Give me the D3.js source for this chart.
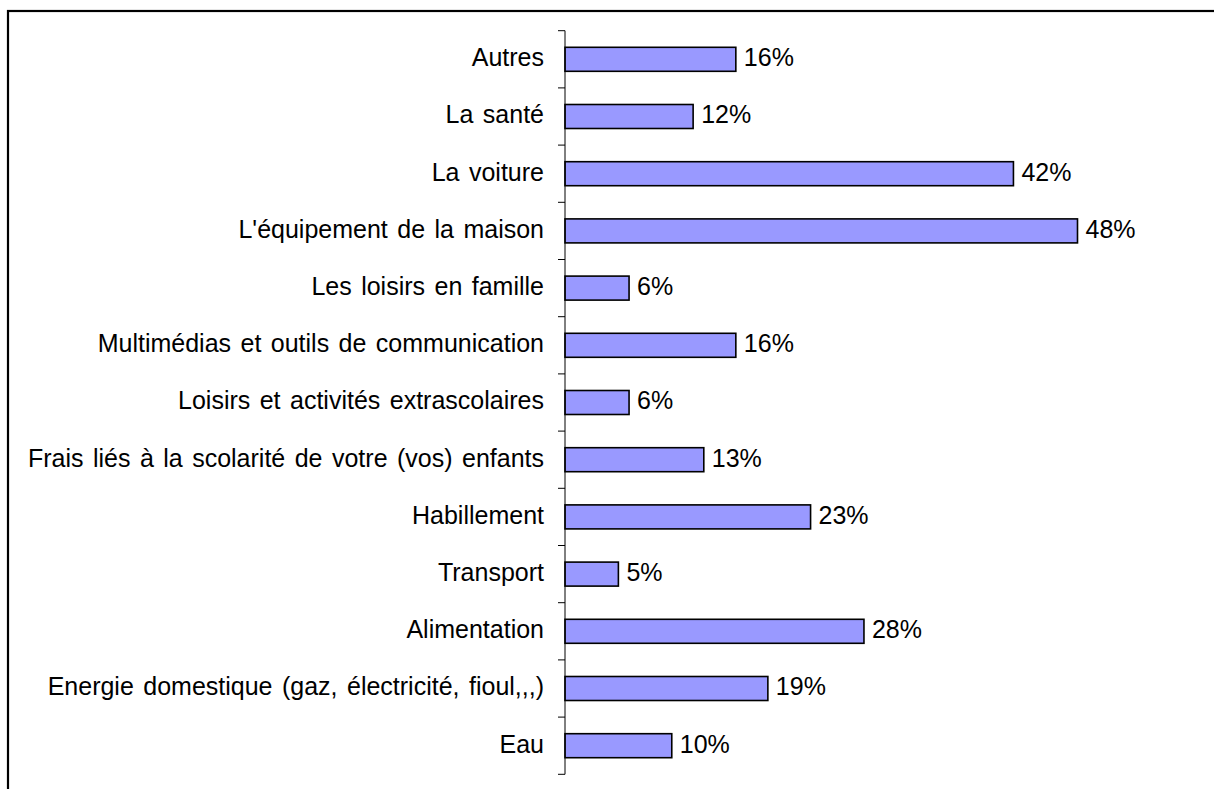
<!DOCTYPE html>
<html><head><meta charset="utf-8">
<script src="https://cdn.jsdelivr.net/npm/d3@7/dist/d3.min.js"></script>
<style>body{margin:0;background:#fff}svg{display:block}</style>
</head><body>
<script>
const categories = ["Autres","La santé","La voiture","L'équipement de la maison","Les loisirs en famille","Multimédias et outils de communication","Loisirs et activités extrascolaires","Frais liés à la scolarité de votre (vos) enfants","Habillement","Transport","Alimentation","Energie domestique (gaz, électricité, fioul,,,)","Eau"];
const values = [16,12,42,48,6,16,6,13,23,5,28,19,10];
const valueLabels = ["16%","12%","42%","48%","6%","16%","6%","13%","23%","5%","28%","19%","10%"];

const W = 1214, H = 789;
const svg = d3.select("body").append("svg").attr("width", W).attr("height", H);

svg.append("rect").attr("x", 8).attr("y", 11).attr("width", 1260).attr("height", 840)
  .attr("fill", "#fff").attr("stroke", "#000").attr("stroke-width", 2.2);

const x0 = 565, y0 = 30.7, y1 = 774.3;
const x = d3.scaleLinear().domain([0, 48]).range([x0, 1077.5]);
const y = d3.scaleBand().domain(categories).range([y0, y1]).paddingInner(0).paddingOuter(0);
const barH = 24;

const font = "'Liberation Sans', Arial, sans-serif";

svg.append("g").selectAll("rect").data(values).join("rect")
  .attr("x", x(0))
  .attr("y", (d,i) => y(categories[i]) + y.bandwidth()/2 - barH/2)
  .attr("width", d => x(d) - x(0))
  .attr("height", barH)
  .attr("fill", "#9999FF").attr("stroke", "#000").attr("stroke-width", 1.6);

const ax = svg.append("g");
ax.append("line").attr("x1", x0).attr("x2", x0).attr("y1", y0).attr("y2", y1)
  .attr("stroke", "#000").attr("stroke-width", 1);
const bounds = categories.map(c => y(c)).concat([y1]);
ax.selectAll("line.t").data(bounds).join("line").attr("class","t")
  .attr("x1", x0 - 7).attr("x2", x0).attr("y1", d => d).attr("y2", d => d)
  .attr("stroke", "#000").attr("stroke-width", 1);

svg.append("g").selectAll("text").data(categories).join("text")
  .attr("x", 544).attr("y", c => y(c) + y.bandwidth()/2 + 6.8)
  .attr("text-anchor", "end")
  .attr("font-family", font).attr("font-size", 25).attr("fill", "#000")
  .attr("word-spacing", 2.5)
  .text(c => c);

svg.append("g").selectAll("text").data(values).join("text")
  .attr("x", d => x(d) + 8).attr("y", (d,i) => y(categories[i]) + y.bandwidth()/2 + 6.8)
  .attr("text-anchor", "start")
  .attr("font-family", font).attr("font-size", 25).attr("fill", "#000")
  .text((d,i) => valueLabels[i]);
</script>
</body></html>
